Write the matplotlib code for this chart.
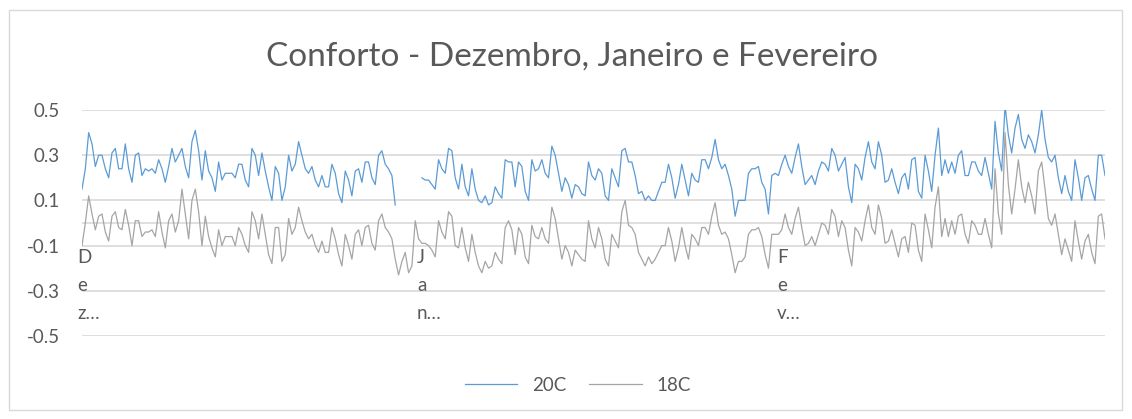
import numpy as np
import matplotlib
matplotlib.use("Agg")
import matplotlib.pyplot as plt
from matplotlib.patches import Rectangle

plt.rcParams['font.family'] = ['Lato', 'DejaVu Sans']

nan = np.nan

# comfort index, 20C setpoint (sampled along the Dec-Feb hourly series)
conf_20c = [
    0.15, 0.24, 0.40, 0.35, 0.25, 0.30, 0.30, 0.24, 0.20, 0.31,
    0.33, 0.24, 0.24, 0.35, 0.24, 0.18, 0.30, 0.31, 0.21, 0.24,
    0.23, 0.24, 0.22, 0.28, 0.24, 0.18, 0.25, 0.33, 0.27, 0.30,
    0.33, 0.25, 0.20, 0.36, 0.41, 0.32, 0.19, 0.32, 0.23, 0.20,
    0.14, 0.27, 0.19, 0.22, 0.22, 0.22, 0.20, 0.26, 0.26, 0.19,
    0.16, 0.33, 0.30, 0.21, 0.31, 0.23, 0.16, 0.10, 0.25, 0.22,
    0.10, 0.16, 0.30, 0.23, 0.26, 0.36, 0.30, 0.24, 0.22, 0.25,
    0.19, 0.16, 0.21, 0.16, 0.16, 0.26, 0.22, 0.13, 0.09, 0.23,
    0.19, 0.12, 0.23, 0.24, 0.18, 0.27, 0.27, 0.20, 0.17, 0.30,
    0.32, 0.26, 0.24, 0.21, 0.08, nan, nan, nan, nan, nan,
    nan, nan, 0.20, 0.19, 0.19, 0.17, 0.15, 0.28, 0.24, 0.22,
    0.33, 0.32, 0.20, 0.15, 0.26, 0.16, 0.12, 0.24, 0.15, 0.10,
    0.09, 0.12, 0.08, 0.09, 0.16, 0.13, 0.11, 0.28, 0.27, 0.27,
    0.16, 0.27, 0.25, 0.14, 0.10, 0.28, 0.23, 0.24, 0.28, 0.22,
    0.20, 0.34, 0.30, 0.22, 0.14, 0.20, 0.17, 0.11, 0.17, 0.16,
    0.13, 0.12, 0.27, 0.21, 0.19, 0.24, 0.22, 0.12, 0.10, 0.24,
    0.20, 0.16, 0.32, 0.33, 0.27, 0.27, 0.21, 0.13, 0.14, 0.10,
    0.12, 0.10, 0.10, 0.14, 0.18, 0.18, 0.26, 0.20, 0.11, 0.17,
    0.26, 0.19, 0.12, 0.22, 0.19, 0.18, 0.28, 0.28, 0.24, 0.29,
    0.37, 0.28, 0.24, 0.26, 0.21, 0.15, 0.03, 0.10, 0.10, 0.10,
    0.22, 0.24, 0.24, 0.25, 0.18, 0.15, 0.04, 0.21, 0.22, 0.21,
    0.26, 0.30, 0.25, 0.22, 0.29, 0.35, 0.25, 0.17, 0.19, 0.21,
    0.17, 0.23, 0.27, 0.26, 0.23, 0.33, 0.30, 0.23, 0.26, 0.29,
    0.16, 0.09, 0.26, 0.24, 0.19, 0.29, 0.36, 0.27, 0.24, 0.36,
    0.30, 0.18, 0.19, 0.24, 0.18, 0.13, 0.20, 0.22, 0.15, 0.28,
    0.29, 0.14, 0.11, 0.30, 0.23, 0.14, 0.30, 0.42, 0.21, 0.28,
    0.22, 0.27, 0.22, 0.30, 0.32, 0.21, 0.21, 0.27, 0.27, 0.23,
    0.21, 0.29, 0.22, 0.15, 0.45, 0.31, 0.23, 0.52, 0.39, 0.31,
    0.42, 0.48, 0.37, 0.33, 0.39, 0.36, 0.31, 0.39, 0.50, 0.37,
    0.29, 0.27, 0.30, 0.20, 0.13, 0.21, 0.14, 0.10, 0.28, 0.20,
    0.10, 0.20, 0.21, 0.15, 0.10, 0.30, 0.30, 0.21,
]

# comfort index, 18C setpoint
conf_18c = [
    -0.10, 0.00, 0.12, 0.04, -0.03, 0.03, 0.04, -0.04, -0.08, 0.03,
    0.05, -0.02, -0.03, 0.06, -0.01, -0.10, 0.01, 0.01, -0.06, -0.04,
    -0.04, -0.03, -0.06, 0.05, -0.04, -0.11, 0.01, 0.04, -0.04, 0.01,
    0.15, 0.04, -0.07, 0.10, 0.15, 0.05, -0.10, 0.03, -0.06, -0.11,
    -0.15, -0.03, -0.10, -0.06, -0.06, -0.06, -0.10, -0.02, -0.05, -0.10,
    -0.13, 0.05, 0.01, -0.07, 0.04, -0.05, -0.14, -0.18, -0.02, -0.02,
    -0.17, -0.14, 0.02, -0.05, -0.02, 0.07, 0.01, -0.04, -0.07, -0.05,
    -0.10, -0.13, -0.08, -0.13, -0.13, -0.02, -0.07, -0.14, -0.19, -0.05,
    -0.10, -0.16, -0.05, -0.03, -0.10, -0.02, -0.01, -0.09, -0.12, 0.01,
    0.04, -0.02, -0.04, -0.07, -0.16, -0.23, -0.17, -0.13, -0.22, -0.19,
    0.01, -0.07, -0.09, -0.09, -0.10, -0.12, -0.15, 0.01, -0.04, -0.07,
    0.05, 0.03, -0.10, -0.11, -0.02, -0.11, -0.17, -0.05, -0.13, -0.19,
    -0.22, -0.17, -0.20, -0.19, -0.13, -0.16, -0.18, -0.02, 0.01, -0.03,
    -0.14, -0.02, -0.05, -0.15, -0.18, -0.01, -0.06, -0.07, -0.02, -0.07,
    -0.09, 0.07, 0.02, -0.07, -0.16, -0.10, -0.13, -0.19, -0.12, -0.14,
    -0.16, -0.17, 0.01, -0.07, -0.11, -0.02, -0.07, -0.16, -0.19, -0.05,
    -0.08, -0.11, 0.05, 0.10, -0.01, -0.02, -0.05, -0.13, -0.16, -0.19,
    -0.15, -0.18, -0.16, -0.13, -0.10, -0.10, -0.02, -0.08, -0.17, -0.11,
    -0.02, -0.10, -0.16, -0.05, -0.07, -0.10, -0.02, -0.02, -0.05, 0.03,
    0.09, -0.01, -0.05, -0.04, -0.07, -0.14, -0.22, -0.17, -0.17, -0.15,
    -0.05, -0.03, -0.03, -0.02, -0.06, -0.14, -0.20, -0.05, -0.05, -0.05,
    -0.03, 0.04, -0.02, -0.05, 0.02, 0.07, -0.02, -0.10, -0.09, -0.06,
    -0.10, -0.05, 0.00, -0.01, -0.05, 0.06, 0.03, -0.06, 0.01, -0.02,
    -0.12, -0.19, -0.02, -0.04, -0.08, 0.01, 0.08, -0.02, -0.05, 0.08,
    0.02, -0.09, -0.08, -0.03, -0.09, -0.15, -0.07, -0.06, -0.13, 0.00,
    -0.01, -0.12, -0.17, 0.04, -0.03, -0.11, 0.07, 0.16, -0.06, 0.02,
    -0.06, 0.01, -0.05, 0.03, 0.04, -0.05, -0.09, 0.01, -0.01, -0.05,
    -0.05, 0.02, -0.05, -0.11, 0.24, 0.04, -0.05, 0.40, 0.17, 0.04,
    0.15, 0.28, 0.16, 0.09, 0.18, 0.12, 0.04, 0.23, 0.27, 0.15,
    0.02, -0.01, 0.04, -0.05, -0.14, -0.07, -0.12, -0.17, 0.01, -0.08,
    -0.16, -0.08, -0.05, -0.13, -0.18, 0.03, 0.04, -0.07,
]

series_names = ["20C", "18C"]
month_labels = ["Dez", "Jan", "Fev"]
month_start = [0, 102, 210]  # sample index where each month begins

yticks = [0.5, 0.3, 0.1, -0.1, -0.3, -0.5]

W, H = 1132, 419
fig = plt.figure(figsize=(W / 100, H / 100), dpi=100)
ax = fig.add_axes([82 / W, 1 - 336 / H, (1105 - 82) / W, (336 - 110) / H])

x = np.arange(len(conf_20c))
ax.plot(x, conf_20c, color="#5b9bd5", lw=0.9, label=series_names[0])
ax.plot(x, conf_18c, color="#a5a5a5", lw=0.9, label=series_names[1])

ax.set_xlim(0, len(conf_20c) - 1)
ax.set_ylim(-0.5, 0.5)
ax.set_yticks(yticks)
ax.set_yticklabels([f"{t:.1f}" for t in yticks])
ax.set_xticks([])
ax.tick_params(axis="y", length=0, pad=16, labelsize=13.5, labelcolor="#595959")
for t in yticks:
    ax.axhline(t, color="#d9d9d9", lw=1.2, zorder=0)
ax.axhline(0, color="#d9d9d9", lw=1.2, zorder=0)
for s in ax.spines.values():
    s.set_visible(False)

# wrapped category labels (Excel squeezes them letter by letter)
for lab, pos in zip(month_labels, month_start):
    txt = "\n".join([lab[0], lab[1], lab[2] + "…"])
    ax.annotate(txt, xy=(pos, -0.115), xycoords="data", xytext=(-5, 0),
                textcoords="offset pixels", ha="left", va="top",
                fontsize=13.5, color="#595959", linespacing=1.8)

fig.text(572 / W, 1 - 57 / H, "Conforto - Dezembro, Janeiro e Fevereiro",
         ha="center", va="center", fontsize=24, color="#595959")

fig.legend(loc="center", bbox_to_anchor=(578 / W, 1 - 385 / H), ncol=2,
           frameon=False, fontsize=13.5, handlelength=2.8, columnspacing=1.2,
           labelcolor="#595959")

fig.patches.append(Rectangle((9 / W, 1 - 410 / H), (1122 - 9) / W, 400 / H,
                             transform=fig.transFigure, fill=False,
                             edgecolor="#d9d9d9", lw=1))

fig.savefig("out.png", dpi=100)
